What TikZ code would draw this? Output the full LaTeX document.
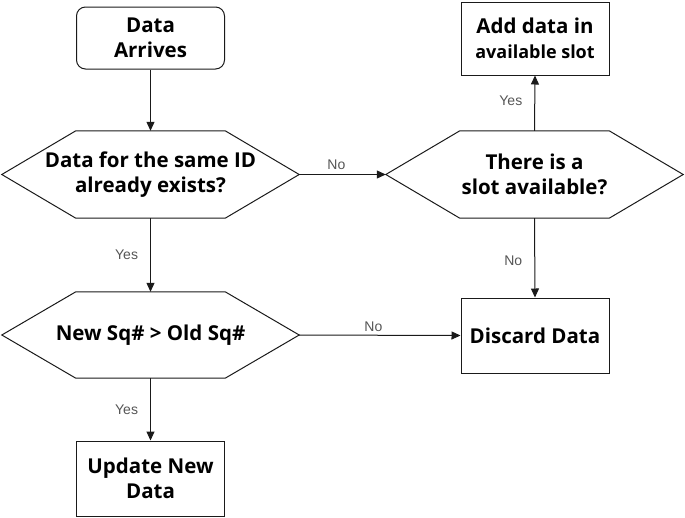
\documentclass[tikz,border=0pt]{standalone}
\usepackage{fontspec}
\setmainfont{Open Sans}
\newfontfamily\lblfont{Liberation Sans}
\usetikzlibrary{calc,arrows.meta}
\definecolor{linec}{HTML}{1A1A1A}
\definecolor{lblc}{HTML}{555555}
\tikzset{
  box/.style={draw=linec, line width=1pt, minimum width=148pt, minimum height=74pt, align=center, inner sep=0pt, font=\fontsize{20.5}{25}\selectfont\bfseries},
  startbox/.style={box, rounded corners=9pt, minimum height=62pt},
  hexnode/.style={minimum width=297pt, minimum height=87pt, align=center, inner sep=0pt, font=\fontsize{20.5}{25}\selectfont\bfseries},
  conn/.style={draw=linec, line width=1pt, -{Triangle[length=9pt,width=8pt]}},
  lbl/.style={font=\lblfont\fontsize{14}{16}\selectfont, text=lblc, inner sep=2pt}
}
\newcommand{\hexdraw}[1]{%
  \draw[draw=linec, line width=1pt] (#1.west) -- ($(#1.north west)+(74,0)$) -- ($(#1.north east)+(-74,0)$) -- (#1.east) -- ($(#1.south east)+(-74,0)$) -- ($(#1.south west)+(74,0)$) -- cycle;}
\begin{document}
\begin{tikzpicture}[x=1pt,y=-1pt]
\useasboundingbox (0,0) rectangle (685,517);
\node[startbox] (start) at (150.5,38) {Data\\Arrives};
\node[hexnode] (d1) at (150.5,174.5) {Data for the same ID\\already exists?};
\hexdraw{d1}
\node[hexnode] (d2) at (534.5,174.5) {There is a\\slot available?};
\hexdraw{d2}
\node[box, minimum height=73pt] (add) at (535,38.5) {Add data in\\{\fontsize{18}{23}\selectfont available slot}};
\node[hexnode, minimum height=86pt] (d3) at (150.5,335) {New Sq\# > Old Sq\#};
\hexdraw{d3}
\node[box, minimum height=75pt] (upd) at (150.5,478.5) {Update New\\Data};
\node[box, minimum height=75pt] (disc) at (535,335.5) {Discard Data};
\draw[conn] (start.south) -- (d1.north);
\draw[conn] (d1.east) -- node[lbl, above, pos=0.43, yshift=2pt] {No} (d2.west);
\draw[conn] (d2.north) -- node[lbl, left, xshift=-10pt, yshift=2pt] {Yes} (add.south);
\draw[conn] (d2.south) -- node[lbl, left, xshift=-10pt, yshift=-3pt] {No} (disc.north);
\draw[conn] (d1.south) -- node[lbl, left, xshift=-10pt] {Yes} (d3.north);
\draw[conn] (d3.east) -- node[lbl, above, pos=0.46, yshift=1pt] {No} (disc.west);
\draw[conn] (d3.south) -- node[lbl, left, xshift=-10pt] {Yes} (upd.north);
\end{tikzpicture}
\end{document}
